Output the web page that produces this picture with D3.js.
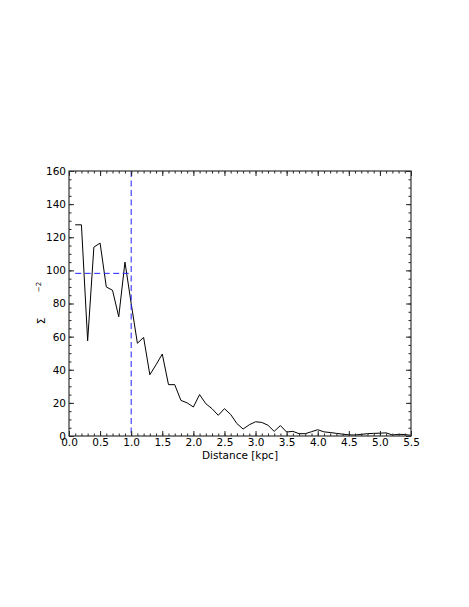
<!DOCTYPE html>
<html>
<head>
<meta charset="utf-8">
<script src="https://cdn.jsdelivr.net/npm/d3@7"></script>
<style>
  body { margin: 0; background: #fff; }
  text { font-family: "DejaVu Sans", sans-serif; }
</style>
</head>
<body>
<svg width="469" height="607"></svg>
<script>
// surface density profile
var distance = [0.1, 0.2, 0.3, 0.4, 0.5, 0.6, 0.7, 0.8, 0.9, 1.0,
                1.1, 1.2, 1.3, 1.4, 1.5, 1.6, 1.7, 1.8, 1.9, 2.0,
                2.1, 2.2, 2.3, 2.4, 2.5, 2.6, 2.7, 2.8, 2.9, 3.0,
                3.1, 3.2, 3.3, 3.4, 3.5, 3.6, 3.7, 3.8, 3.9, 4.0,
                4.1, 4.2, 4.3, 4.4, 4.5, 4.6, 4.7, 4.8, 4.9, 5.0,
                5.1, 5.2, 5.3, 5.4, 5.5];
var sigma = [127.5, 127.5, 57.5, 114, 116.5, 90, 88, 72, 105, 80,
             56, 59.5, 37, 43, 49.5, 31, 31, 21.5, 20, 17.5,
             25, 19.5, 16.5, 12.5, 16.5, 13, 7.5, 4.2, 6.8, 8.6,
             8.2, 6.5, 2.8, 6.3, 2.4, 2.8, 1.4, 1.4, 2.6, 3.8,
             2.5, 2.1, 1.6, 1.1, 0.7, 0.6, 1.0, 1.4, 1.6, 1.7,
             1.9, 0.6, 1.0, 0.9, 0.4];
var xTicks = [0, 0.5, 1, 1.5, 2, 2.5, 3, 3.5, 4, 4.5, 5, 5.5];
var yTicks = [0, 20, 40, 60, 80, 100, 120, 140, 160];
var cutRadius = 1.0;
var meanSigma = 98.2;
var meanFrom = 0.1;

var mLeft = 69, mRight = 411, mTop = 171, mBottom = 436;

var x = d3.scaleLinear().domain([0, 5.5]).range([mLeft, mRight]);
var y = d3.scaleLinear().domain([0, 160]).range([mBottom, mTop]);

var svg = d3.select("svg");

var pts = distance.map((d, i) => [d, sigma[i]]);

var line = d3.line()
    .x(d => x(d[0]))
    .y(d => y(d[1]));

svg.append("defs").append("clipPath").attr("id", "clip")
    .append("rect")
    .attr("x", mLeft).attr("y", mTop)
    .attr("width", mRight - mLeft).attr("height", mBottom - mTop);

var plot = svg.append("g").attr("clip-path", "url(#clip)");

plot.append("path")
    .datum(pts)
    .attr("d", line)
    .attr("fill", "none")
    .attr("stroke", "#000")
    .attr("stroke-width", 1);

plot.append("line")
    .attr("x1", x(cutRadius)).attr("x2", x(cutRadius))
    .attr("y1", y(160)).attr("y2", y(0))
    .attr("stroke", "#2020ff")
    .attr("stroke-width", 1)
    .attr("stroke-dasharray", "6,3.5");

plot.append("line")
    .attr("x1", x(meanFrom)).attr("x2", x(cutRadius))
    .attr("y1", y(meanSigma)).attr("y2", y(meanSigma))
    .attr("stroke", "#2020ff")
    .attr("stroke-width", 1)
    .attr("stroke-dasharray", "6,3.5");

// axes, ticks inward on all four sides
var xMinor = d3.range(0, 5.501, 0.1);
var yMinor = d3.range(0, 160.1, 5);

function addAxis(axis, tr) {
    var g = svg.append("g").attr("transform", tr).call(axis);
    g.select(".domain").remove();
    g.selectAll("line").attr("stroke", "#222");
    return g;
}

addAxis(d3.axisBottom(x).tickValues(xMinor).tickSize(-2.5).tickFormat(""), `translate(0,${mBottom})`);
addAxis(d3.axisTop(x).tickValues(xMinor).tickSize(-2.5).tickFormat(""), `translate(0,${mTop})`);
addAxis(d3.axisLeft(y).tickValues(yMinor).tickSize(-2.5).tickFormat(""), `translate(${mLeft},0)`);
addAxis(d3.axisRight(y).tickValues(yMinor).tickSize(-2.5).tickFormat(""), `translate(${mRight},0)`);

addAxis(d3.axisBottom(x).tickValues(xTicks).tickSize(-5).tickPadding(3).tickFormat(d3.format(".1f")), `translate(0,${mBottom})`);
addAxis(d3.axisTop(x).tickValues(xTicks).tickSize(-5).tickFormat(""), `translate(0,${mTop})`);
addAxis(d3.axisLeft(y).tickValues(yTicks).tickSize(-5).tickPadding(3).tickFormat(d3.format("d")), `translate(${mLeft},0)`);
addAxis(d3.axisRight(y).tickValues(yTicks).tickSize(-5).tickFormat(""), `translate(${mRight},0)`);

svg.selectAll(".tick text")
    .attr("font-family", "DejaVu Sans, sans-serif")
    .attr("font-size", 10.5)
    .attr("fill", "#000");

svg.append("rect")
    .attr("x", mLeft).attr("y", mTop)
    .attr("width", mRight - mLeft).attr("height", mBottom - mTop)
    .attr("fill", "none")
    .attr("stroke", "#333")
    .attr("stroke-width", 1.2);

svg.append("text")
    .attr("x", (mLeft + mRight) / 2)
    .attr("y", 459)
    .attr("text-anchor", "middle")
    .attr("font-size", 10.5)
    .text("Distance [kpc]");

svg.append("text")
    .attr("transform", "translate(45,321) rotate(-90)")
    .attr("text-anchor", "middle")
    .attr("font-size", 10.5)
    .text("Σ");

svg.append("text")
    .attr("transform", "translate(41,287) rotate(-90)")
    .attr("text-anchor", "middle")
    .attr("font-size", 7)
    .text("−2");
</script>
</body>
</html>
